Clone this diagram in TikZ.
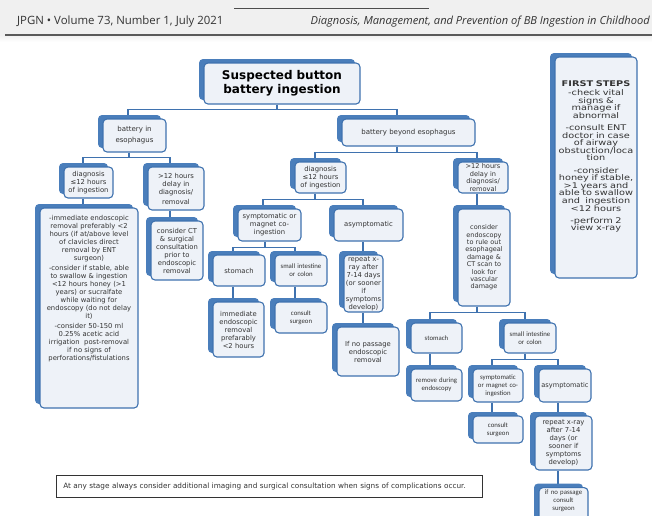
\documentclass[tikz,border=0pt]{standalone}
\usepackage{fontspec}
\setmainfont{DejaVu Sans}
\newfontfamily\calfont{Carlito}
\newfontfamily\hdfont{Open Sans}
\newfontfamily\fsfont[FakeStretch=1.25]{DejaVu Sans}
\newcommand\fsset{\fsfont\fontsize{7.8}{7.6}\selectfont\lineskiplimit=-8pt\relax}
\usetikzlibrary{shadows,backgrounds}
\definecolor{bblue}{HTML}{4A7EBB}
\definecolor{bline}{HTML}{3F72AF}
\definecolor{bfill}{HTML}{EEF2F8}
\definecolor{txt}{HTML}{333333}
\tikzset{
  bx/.style={draw=bline, line width=1.1pt, fill=bfill, rounded corners=4pt,
    inner sep=0pt, align=center, text=txt,
    font=\fontsize{6.8}{8}\selectfont,
    general shadow={fill=bblue, shadow xshift=-5pt, shadow yshift=4pt}},
  cal/.style={font=\calfont\fontsize{6.8}{8}\selectfont},
  wh/.style 2 args={minimum width=#1pt, text width=#1pt, minimum height=#2pt},
  conn/.style={draw=bline, line width=1.3pt},
}
\begin{document}
\begin{tikzpicture}[x=1pt,y=-1pt]
\useasboundingbox (0,0) rectangle (652,515);
\clip (0,0) rectangle (652,515);
% header
\fill[black!6] (0,0) rectangle (652,35);
\shade[top color=black!6, bottom color=white] (0,35) rectangle (652,42);
\draw[black!70, line width=0.8pt] (234,8) -- (429,8);
\draw[black!65, line width=1.6pt] (5,35) -- (652,35);
\node[anchor=base west, inner sep=0pt, font=\hdfont\fontsize{11.4}{12}\selectfont, text=black!80] (hl) at (17,24) {JPGN • Volume 73, Number 1, July 2021};
\node[anchor=base east, inner sep=0pt, font=\hdfont\itshape\fontsize{11.1}{12}\selectfont, text=black!80] (hr) at (650,24) {Diagnosis, Management, and Prevention of BB Ingestion in Childhood};

% boxes
\node[bx, wh={156}{41}, font=\bfseries\fontsize{12}{14}\selectfont, text=black] (title) at (282,83.5) {Suspected button\\battery ingestion};
\node[bx, wh={63}{33}, font=\fontsize{7}{11}\selectfont] (esoph) at (134.5,135.5) {battery in\\esophagus};
\node[bx, wh={133}{27}, font=\fontsize{7}{8}\selectfont] (beyond) at (408.5,132.5) {battery beyond esophagus};
\node[bx, wh={49}{31}] (diag1) at (88.5,182.5) {diagnosis\\≤12 hours\\of ingestion};
\node[bx, wh={56}{43}] (delay1) at (176,188.5) {>12 hours\\delay in\\diagnosis/\\[2pt]removal};
\node[bx, wh={98}{200}] (bigleft) at (89,308) {-immediate endoscopic\\removal preferably <2\\hours (if at/above level\\of clavicles direct\\removal by ENT\\surgeon)\\[2pt]-consider if stable, able\\to swallow \& ingestion\\<12 hours honey (>1\\years) or sucralfate\\while waiting for\\endoscopy (do not delay\\it)\\[2pt]-consider 50-150 ml\\0.25\% acetic acid\\irrigation\ \ post-removal\\if no signs of\\perforations/fistulations\\[33pt]\mbox{}};
\node[bx, wh={52}{59}] (ct) at (177,250.5) {consider CT\\\& surgical\\consultation\\prior to\\endoscopic\\removal};
\node[bx, wh={51}{31}] (diag2) at (320.5,177.5) {diagnosis\\≤12 hours\\of ingestion};
\node[bx, wh={50}{31}, font=\fontsize{6.6}{7.5}\selectfont] (delay2) at (483,177.5) {>12 hours\\delay in\\diagnosis/\\removal};
\node[bx, wh={63}{32}] (symp1) at (269.5,225) {symptomatic or\\magnet co-\\ingestion};
\node[bx, wh={69}{32}] (asym1) at (368.5,225) {asymptomatic};
\node[bx, wh={52}{31}] (stom1) at (239,270.5) {stomach};
\node[bx, cal, wh={52}{31}] (small1) at (301,270.5) {small intestine\\or colon};
\node[bx, wh={51}{55}] (imm) at (238.5,329.5) {immediate\\endoscopic\\removal\\prefarably\\<2 hours};
\node[bx, cal, wh={52}{31}] (cons1) at (301,317.5) {consult\\surgeon};
\node[bx, wh={39}{57}] (rep1) at (363.5,283.5) {repeat x-\\ray after\\7-14 days\\(or sooner\\if\\symptoms\\develop)};
\node[bx, wh={62}{49}] (nopass1) at (368,351.5) {If no passage\\endoscopic\\removal};
\node[bx, wh={52}{97}, font=\fontsize{6.5}{7.4}\selectfont] (consendo) at (484,257.5) {consider\\endoscopy\\to rule out\\esophageal\\damage \&\\CT scan to\\look for\\vascular\\damage};
\node[bx, cal, wh={51}{30}] (stom2) at (436.5,338) {stomach};
\node[bx, cal, wh={52}{30}] (small2) at (530,338) {small intestine\\or colon};
\node[bx, cal, wh={51}{32}] (remove) at (436.5,385) {remove during\\endoscopy};
\node[bx, cal, wh={50}{33}] (symp2) at (498,385.5) {symptomatic\\or magnet co-\\ingestion};
\node[bx, wh={52}{33}, font=\fontsize{6.6}{8}\selectfont] (asym2) at (565,385.5) {asymptomatic};
\node[bx, cal, wh={50}{27}] (cons2) at (498,429.5) {consult\\surgeon};
\node[bx, wh={57}{54}] (rep2) at (563.5,443) {repeat x-ray\\after 7-14\\days (or\\sooner if\\symptoms\\develop)};
\node[bx, cal, wh={49}{40}, anchor=north] (nopass2) at (563.5,487) {if no passage\\consult\\surgeon\\[6pt]\mbox{}};
\node[bx, wh={82}{221}, font=\fsset] (first) at (596,167.5) {\textbf{FIRST STEPS}\\[1.5pt]-check vital\\signs \&\\manage if\\abnormal\\[4.5pt]-consult ENT\\doctor in case\\of airway\\obstuction/loca\\tion\\[4.5pt]-consider\\honey if stable,\\>1 years and\\able to swallow\\and\ \ ingestion\\<12 hours\\[4.5pt]-perform 2\\view x-ray\\[16pt]\mbox{}};
\node[draw=black!80, line width=0.6pt, fill=white, anchor=north west, minimum width=426pt, minimum height=22pt, text width=412pt, inner xsep=7pt, align=left, text=txt, font=\fontsize{7.3}{8}\selectfont, general shadow={fill=black!25, shadow xshift=1pt, shadow yshift=-1pt}] (note) at (56,475) {At any stage always consider additional imaging and surgical consultation when signs of complications occur.};

% connectors
\begin{scope}[on background layer]
\draw[conn] ([xshift=-5pt]title.south) -- ++(0,5) -| ([xshift=-6.5pt]esoph.north);
\draw[conn] ([xshift=-5pt]title.south) -- ++(0,5) -| ([xshift=-11.5pt]beyond.north);
\draw[conn] ([xshift=-5.5pt]esoph.south) -- ++(0,5) -| ([xshift=-5.5pt]diag1.north);
\draw[conn] ([xshift=-5.5pt]esoph.south) -- ++(0,5) -| ([xshift=-6pt]delay1.north);
\draw[conn] ([xshift=-5.5pt]diag1.south) -- ([xshift=-6pt]bigleft.north);
\draw[conn] ([xshift=-6pt]delay1.south) -- ([xshift=-7pt]ct.north);
\draw[conn] ([xshift=-11.5pt]beyond.south) -- ++(0,6) -| ([xshift=-5.5pt]diag2.north);
\draw[conn] ([xshift=-11.5pt]beyond.south) -- ++(0,6) -| ([xshift=-6pt]delay2.north);
\draw[conn] ([xshift=-5.5pt]diag2.south) -- ++(0,6) -| ([xshift=-6.5pt]symp1.north);
\draw[conn] ([xshift=-5.5pt]diag2.south) -- ++(0,6) -| ([xshift=-5.5pt]asym1.north);
\draw[conn] ([xshift=-4.5pt]symp1.south) -- ++(0,6) -| ([xshift=-6pt]stom1.north);
\draw[conn] ([xshift=-4.5pt]symp1.south) -- ++(0,6) -| ([xshift=-6pt]small1.north);
\draw[conn] ([xshift=-6pt]stom1.south) -- ([xshift=-5.5pt]imm.north);
\draw[conn] ([xshift=-6pt]small1.south) -- ([xshift=-6pt]cons1.north);
\draw[conn] ([xshift=-5.5pt]asym1.south) -- ([xshift=-0.5pt]rep1.north);
\draw[conn] ([xshift=-0.5pt]rep1.south) -- ([xshift=-5pt]nopass1.north);
\draw[conn] ([xshift=-6pt]delay2.south) -- ([xshift=-7pt]consendo.north);
\draw[conn] ([xshift=-7pt]consendo.south) -- ++(0,6) -| ([xshift=-6.5pt]stom2.north);
\draw[conn] ([xshift=-7pt]consendo.south) -- ++(0,6) -| ([xshift=-5pt]small2.north);
\draw[conn] ([xshift=-6.5pt]stom2.south) -- ([xshift=-6.5pt]remove.north);
\draw[conn] ([xshift=-5pt]small2.south) -- ++(0,6) -| ([xshift=-6pt]symp2.north);
\draw[conn] ([xshift=-5pt]small2.south) -- ++(0,6) -| ([xshift=-7pt]asym2.north);
\draw[conn] ([xshift=-6pt]symp2.south) -- ([xshift=-6pt]cons2.north);
\draw[conn] ([xshift=-7pt]asym2.south) -- ([xshift=-5.5pt]rep2.north);
\draw[conn] ([xshift=-5.5pt]rep2.south) -- ([xshift=-5.5pt]nopass2.north);
\end{scope}
\end{tikzpicture}
\end{document}
